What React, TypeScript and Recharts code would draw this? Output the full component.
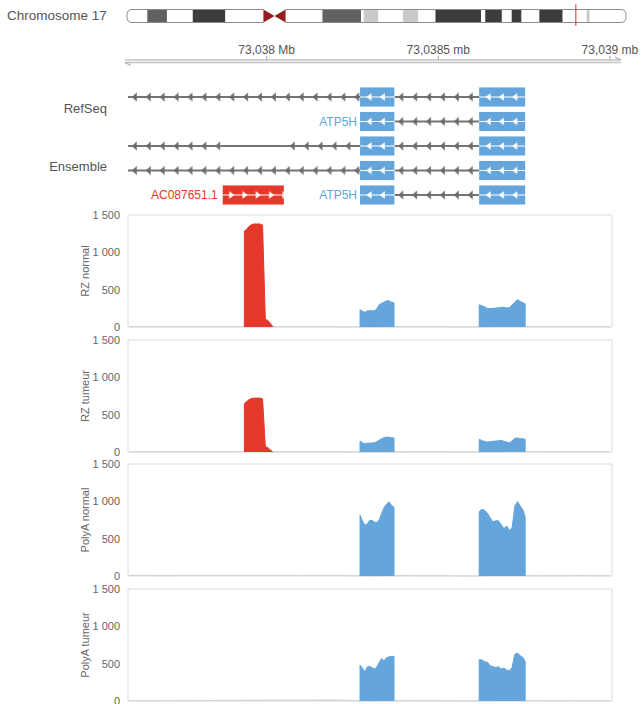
import { ComposedChart, Area, XAxis, YAxis, ReferenceArea, ReferenceLine, ReferenceDot } from 'recharts';

// genomic window shown (chr17, bp)
const VIEW_START = 73037596;
const VIEW_END = 73039006;

// chromosome 17 ideogram (hg19 cytobands, Mb)
const CHR_LENGTH = 81.2;
const BAND_START = [0, 3.3, 6.5, 10.7, 16.0, 25.8, 31.8, 38.1, 38.5, 40.9, 44.9, 47.4, 50.2, 57.6, 58.3, 61.0, 62.6, 64.2, 67.1, 70.9, 74.8, 75.3];
const BAND_END = [3.3, 6.5, 10.7, 16.0, 22.2, 31.8, 38.1, 38.5, 40.9, 44.9, 47.4, 50.2, 57.6, 58.3, 61.0, 62.6, 64.2, 67.1, 70.9, 74.8, 75.3, 81.2];
const BAND_STAIN = ['gneg', 'gpos50', 'gneg', 'gpos75', 'gneg', 'gneg', 'gpos50', 'gneg', 'gpos25', 'gneg', 'gpos25', 'gneg', 'gpos75', 'gneg', 'gpos75', 'gneg', 'gpos75', 'gneg', 'gpos75', 'gneg', 'gpos25', 'gneg'];
const CENTROMERE = [22.2, 24.0, 25.8];
const LOCUS_MB = 73.04;

// ruler
const RULER_TICKS = [73038000, 73038500, 73039000];
const RULER_LABELS = ['73,038 Mb', '73,0385 mb', '73,039 mb'];
const RULER_FROM = 73037587;
const RULER_TO = 73039032;

// gene models
const ATP5H_EXONS = [[73038272, 73038372], [73038619, 73038753]];
const ATP5H_ROWS = [1, 2, 3, 4, 5];
const ATP5H_LABEL_ROWS = [2, 5];
const AC087651_EXON = [73037872, 73038050];
const AC087651_ROW = 5;
const INTRON_ROW = [1, 1, 2, 3, 3, 3, 3, 4, 4, 5];
const INTRON_START = [VIEW_START, 73038372, 73038372, VIEW_START, 73037866, 73038056, 73038372, VIEW_START, 73038372, 73038372];
const INTRON_END = [73038272, 73038619, 73038619, 73037866, 73038056, 73038272, 73038619, 73038272, 73038619, 73038619];
const INTRON_ARROWS = [true, true, true, true, false, true, true, true, true, true];

// coverage
const PANEL_NAMES = ['RZ normal', 'RZ tumeur', 'PolyA normal', 'PolyA tumeur'];
const Y_TICKS = [0, 500, 1000, 1500];

const PEAK_POS = [73037935, 73037942, 73037948, 73037954, 73037960, 73037970, 73037980, 73037988, 73037996, 73038004, 73038010, 73038017];
const EXON1_POS = [73038272, 73038279, 73038286, 73038293, 73038300, 73038307, 73038314, 73038321, 73038328, 73038335, 73038342, 73038349, 73038356, 73038363, 73038371];
const EXON2_POS = [73038619, 73038627, 73038635, 73038643, 73038651, 73038659, 73038667, 73038675, 73038683, 73038691, 73038699, 73038707, 73038715, 73038723, 73038731, 73038739, 73038747, 73038753];
const BG_POS = [73037600, 73037700, 73037800, 73037900, 73038000, 73038100, 73038200, 73038300, 73038400, 73038500, 73038600, 73038700, 73038800, 73038900, 73039000];

const RZ_NORMAL_PEAK = [1285, 1310, 1345, 1365, 1378, 1380, 1380, 1365, 105, 85, 50, 10];
const RZ_TUMEUR_PEAK = [650, 675, 700, 712, 720, 722, 722, 712, 75, 55, 30, 5];

const RZ_NORMAL_E1 = [230, 210, 196, 218, 218, 218, 218, 245, 300, 318, 333, 350, 352, 333, 325];
const RZ_NORMAL_E2 = [298, 285, 272, 249, 247, 250, 253, 258, 263, 266, 256, 260, 295, 335, 365, 343, 322, 310];
const RZ_TUMEUR_E1 = [147, 125, 110, 118, 120, 120, 125, 140, 160, 178, 191, 200, 198, 192, 187];
const RZ_TUMEUR_E2 = [169, 155, 140, 134, 138, 143, 147, 150, 155, 145, 135, 122, 150, 185, 187, 180, 176, 173];
const POLYA_NORMAL_E1 = [815, 740, 680, 700, 745, 745, 723, 712, 754, 840, 915, 960, 995, 950, 920];
const POLYA_NORMAL_E2 = [860, 895, 880, 840, 780, 725, 740, 740, 690, 635, 670, 612, 645, 940, 995, 935, 880, 790];
const POLYA_TUMEUR_E1 = [480, 440, 390, 455, 465, 445, 430, 455, 520, 570, 535, 580, 590, 598, 598];
const POLYA_TUMEUR_E2 = [551, 551, 525, 520, 472, 459, 450, 459, 428, 441, 415, 406, 450, 626, 644, 604, 582, 525];

const RZ_NORMAL_BG = [3, 2, 2, 3, 2, 3, 2, 0, 3, 3, 0, 3, 2, 3, 2];
const RZ_TUMEUR_BG = [2, 3, 2, 3, 2, 2, 3, 0, 2, 3, 0, 2, 3, 2, 2];
const POLYA_NORMAL_BG = [10, 6, 9, 8, 10, 7, 9, 0, 6, 4, 0, 4, 3, 6, 5];
const POLYA_TUMEUR_BG = [3, 3, 5, 9, 12, 12, 14, 0, 5, 4, 0, 4, 3, 3, 3];

const BLUE = '#64a6db';
const RED = '#e5372a';
const BG_GREY = '#d2d2d2';
const TEXT = '#555';

const STAIN_COLORS: Record<string, string> = {
  gneg: '#ffffff',
  gpos25: '#cacaca',
  gpos50: '#616161',
  gpos75: '#3c3c3c',
};

const fmt = (v: number) => String(v).replace(/\B(?=(\d{3})+(?!\d))/g, ' ');

const toSeries = (pos: number[], vals: number[]) => [
  { pos: pos[0], v: 0 },
  ...pos.map((p, i) => ({ pos: p, v: vals[i] })),
  { pos: pos[pos.length - 1], v: 0 },
];

const toBg = (vals: number[]) => BG_POS.map((p, i) => ({ pos: p, v: vals[i] }));

function ArmOutline({ x, y, width, height, side }: any) {
  const r = 5;
  const d =
    side === 'p'
      ? `M${x + width},${y} H${x + r} Q${x},${y} ${x},${y + r} V${y + height - r} Q${x},${y + height} ${x + r},${y + height} H${x + width}`
      : `M${x},${y} H${x + width - r} Q${x + width},${y} ${x + width},${y + r} V${y + height - r} Q${x + width},${y + height} ${x + width - r},${y + height} H${x}`;
  return <path d={d} fill="none" stroke="#8c8c8c" strokeWidth={1} />;
}

function CentromereHalf({ x, y, width, height, dir }: any) {
  const d =
    dir === 'right'
      ? `M${x},${y} L${x + width},${y + height / 2} L${x},${y + height} Z`
      : `M${x + width},${y} L${x},${y + height / 2} L${x + width},${y + height} Z`;
  return <path d={d} fill="#941c1c" />;
}

function Ideogram() {
  return (
    <ComposedChart width={641} height={30} margin={{ top: 3, right: 15, bottom: 1, left: 127 }}>
      <XAxis type="number" dataKey="x" domain={[0, CHR_LENGTH]} hide allowDataOverflow />
      <YAxis type="number" domain={[-0.5, 1.5]} hide allowDataOverflow />
      {BAND_START.map((s, i) => (
        <ReferenceArea
          key={`band-${i}`}
          x1={s}
          x2={BAND_END[i]}
          y1={0}
          y2={1}
          fill={STAIN_COLORS[BAND_STAIN[i]]}
          fillOpacity={1}
          stroke="none"
          ifOverflow="visible"
        />
      ))}
      <ReferenceArea x1={0} x2={CENTROMERE[0]} y1={0} y2={1} ifOverflow="visible" shape={(p: any) => <ArmOutline {...p} side="p" />} />
      <ReferenceArea x1={CENTROMERE[2]} x2={CHR_LENGTH} y1={0} y2={1} ifOverflow="visible" shape={(p: any) => <ArmOutline {...p} side="q" />} />
      <ReferenceArea x1={CENTROMERE[0]} x2={CENTROMERE[1]} y1={0} y2={1} ifOverflow="visible" shape={(p: any) => <CentromereHalf {...p} dir="right" />} />
      <ReferenceArea x1={CENTROMERE[1]} x2={CENTROMERE[2]} y1={0} y2={1} ifOverflow="visible" shape={(p: any) => <CentromereHalf {...p} dir="left" />} />
      <ReferenceLine
        segment={[{ x: LOCUS_MB, y: -0.25 }, { x: LOCUS_MB, y: 1.4 }]}
        stroke="#e3262d"
        strokeWidth={1}
        ifOverflow="visible"
      />
    </ComposedChart>
  );
}

function IntronGlyph({ x, y, width, height, arrows, pid }: any) {
  const cy = y + height / 2;
  const h = height;
  return (
    <g>
      {arrows && (
        <defs>
          <pattern id={pid} patternUnits="userSpaceOnUse" x={x + 3} y={y} width={13.9} height={h}>
            <path d={`M1,${h / 2} L5.8,${h / 2 - 4.6} L5.8,${h / 2 + 4.6} Z`} fill="#6b6b6b" />
          </pattern>
        </defs>
      )}
      <line x1={x} x2={x + width} y1={cy} y2={cy} stroke="#747474" strokeWidth={2} />
      {arrows && <rect x={x} y={y} width={width} height={h} fill={`url(#${pid})`} />}
    </g>
  );
}

function ExonGlyph({ x, y, width, height, color, dir, pid }: any) {
  const cy = y + height / 2;
  const h = height;
  const tri =
    dir === 'left'
      ? `M1.5,${h / 2} L6.5,${h / 2 - 3.8} L6.5,${h / 2 + 3.8} Z`
      : `M6.5,${h / 2} L1.5,${h / 2 - 3.8} L1.5,${h / 2 + 3.8} Z`;
  return (
    <g>
      <defs>
        <pattern id={pid} patternUnits="userSpaceOnUse" x={x + 5} y={y} width={13.3} height={h}>
          <path d={tri} fill="#ffffff" />
        </pattern>
      </defs>
      <rect x={x} y={y} width={width} height={h} fill={color} />
      <line x1={x} x2={x + width} y1={cy} y2={cy} stroke="#ffffff" strokeWidth={1.2} />
      <rect x={x} y={y} width={width} height={h} fill={`url(#${pid})`} />
    </g>
  );
}

function GeneTracks() {
  return (
    <ComposedChart width={641} height={215} margin={{ top: 35.75, right: 29, bottom: 7.75, left: 128 }}>
      <XAxis type="number" dataKey="pos" domain={[VIEW_START, VIEW_END]} hide allowDataOverflow />
      <YAxis type="number" domain={[-1.5, 5.5]} reversed hide allowDataOverflow />

      {/* ruler */}
      <ReferenceLine segment={[{ x: RULER_FROM, y: -0.51 }, { x: RULER_TO, y: -0.51 }]} stroke="#c4c4c4" strokeWidth={1.4} ifOverflow="visible" />
      <ReferenceLine segment={[{ x: RULER_FROM, y: -0.41 }, { x: RULER_TO, y: -0.41 }]} stroke="#c4c4c4" strokeWidth={1.4} ifOverflow="visible" />
      <ReferenceLine segment={[{ x: RULER_TO, y: -0.51 }, { x: RULER_TO - 17, y: -0.63 }]} stroke="#b8b8b8" strokeWidth={1.4} ifOverflow="visible" />
      <ReferenceLine segment={[{ x: RULER_FROM, y: -0.41 }, { x: RULER_FROM + 17, y: -0.29 }]} stroke="#b8b8b8" strokeWidth={1.4} ifOverflow="visible" />
      {RULER_TICKS.map((t, i) => (
        <ReferenceLine
          key={`tick-${i}`}
          segment={[{ x: t, y: -0.68 }, { x: t, y: -0.51 }]}
          stroke="#a8a8a8"
          strokeWidth={1}
          ifOverflow="visible"
        />
      ))}
      {RULER_TICKS.map((t, i) => (
        <ReferenceDot
          key={`tlab-${i}`}
          x={t}
          y={-0.94}
          r={0}
          fill="none"
          stroke="none"
          ifOverflow="visible"
          label={{ value: RULER_LABELS[i], position: 'center', fill: TEXT, fontSize: 12 }}
        />
      ))}

      {/* introns */}
      {INTRON_ROW.map((row, i) => (
        <ReferenceArea
          key={`intron-${i}`}
          x1={INTRON_START[i]}
          x2={INTRON_END[i]}
          y1={row - 0.2}
          y2={row + 0.2}
          ifOverflow="visible"
          shape={(p: any) => <IntronGlyph {...p} arrows={INTRON_ARROWS[i]} pid={`intron-pat-${i}`} />}
        />
      ))}

      {/* ATP5H exons */}
      {ATP5H_ROWS.map((row) =>
        ATP5H_EXONS.map(([s, e], j) => (
          <ReferenceArea
            key={`exon-${row}-${j}`}
            x1={s}
            x2={e}
            y1={row - 0.39}
            y2={row + 0.39}
            ifOverflow="visible"
            shape={(p: any) => <ExonGlyph {...p} color={BLUE} dir="left" pid={`exon-pat-${row}-${j}`} />}
            label={
              j === 0 && ATP5H_LABEL_ROWS.includes(row)
                ? { value: 'ATP5H', position: 'left', offset: 3, fill: BLUE, fontSize: 12 }
                : undefined
            }
          />
        ))
      )}

      {/* AC087651.1 */}
      <ReferenceArea
        x1={AC087651_EXON[0]}
        x2={AC087651_EXON[1]}
        y1={AC087651_ROW - 0.39}
        y2={AC087651_ROW + 0.39}
        ifOverflow="visible"
        shape={(p: any) => <ExonGlyph {...p} color={RED} dir="right" pid="exon-pat-ac" />}
        label={{ value: 'AC087651.1', position: 'left', offset: 5, fill: RED, fontSize: 12 }}
      />
    </ComposedChart>
  );
}

function CoveragePanel({ top, name, peak, exon1, exon2, bg }: any) {
  return (
    <div style={{ position: 'absolute', left: 0, top: top - 8 }}>
      <ComposedChart width={641} height={128} margin={{ top: 8, right: 29, bottom: 8, left: 0 }}>
        <XAxis type="number" dataKey="pos" domain={[VIEW_START, VIEW_END]} hide allowDataOverflow />
        <YAxis
          type="number"
          domain={[0, 1500]}
          ticks={Y_TICKS}
          width={128}
          axisLine={false}
          tickLine={false}
          tick={{ fill: '#666', fontSize: 11 }}
          tickFormatter={fmt}
        />
        <ReferenceArea x1={VIEW_START} x2={VIEW_END} y1={0} y2={1500} fill="none" stroke="#dadada" strokeWidth={1} />
        <Area data={toBg(bg)} dataKey="v" type="linear" stroke={BG_GREY} fill={BG_GREY} fillOpacity={1} strokeWidth={1} isAnimationActive={false} />
        {peak && (
          <Area data={toSeries(PEAK_POS, peak)} dataKey="v" type="linear" stroke={RED} fill={RED} fillOpacity={1} strokeWidth={1} isAnimationActive={false} />
        )}
        <Area data={toSeries(EXON1_POS, exon1)} dataKey="v" type="linear" stroke={BLUE} fill={BLUE} fillOpacity={1} strokeWidth={1} isAnimationActive={false} />
        <Area data={toSeries(EXON2_POS, exon2)} dataKey="v" type="linear" stroke={BLUE} fill={BLUE} fillOpacity={1} strokeWidth={1} isAnimationActive={false} />
      </ComposedChart>
      <div
        style={{
          position: 'absolute',
          left: 85,
          top: 64,
          transform: 'translate(-50%, -50%) rotate(-90deg)',
          whiteSpace: 'nowrap',
          fontSize: 11,
          color: '#666',
        }}
      >
        {name}
      </div>
    </div>
  );
}

export default function App() {
  return (
    <div
      style={{
        position: 'absolute',
        left: 0,
        top: 0,
        width: 641,
        height: 704,
        overflow: 'hidden',
        background: '#fff',
        fontFamily: '"Liberation Sans", Arial, sans-serif',
      }}
    >
      <div style={{ position: 'absolute', left: 7, top: 8, fontSize: 13.5, color: TEXT }}>Chromosome 17</div>
      <div style={{ position: 'absolute', left: 0, top: 0 }}>
        <Ideogram />
      </div>
      <div style={{ position: 'absolute', left: 0, top: 0 }}>
        <GeneTracks />
      </div>
      <div style={{ position: 'absolute', left: 0, width: 107, top: 101, textAlign: 'right', fontSize: 13, color: TEXT }}>RefSeq</div>
      <div style={{ position: 'absolute', left: 0, width: 107, top: 159, textAlign: 'right', fontSize: 13, color: TEXT }}>Ensemble</div>

      <CoveragePanel top={215} name={PANEL_NAMES[0]} peak={RZ_NORMAL_PEAK} exon1={RZ_NORMAL_E1} exon2={RZ_NORMAL_E2} bg={RZ_NORMAL_BG} />
      <CoveragePanel top={339.5} name={PANEL_NAMES[1]} peak={RZ_TUMEUR_PEAK} exon1={RZ_TUMEUR_E1} exon2={RZ_TUMEUR_E2} bg={RZ_TUMEUR_BG} />
      <CoveragePanel top={464} name={PANEL_NAMES[2]} exon1={POLYA_NORMAL_E1} exon2={POLYA_NORMAL_E2} bg={POLYA_NORMAL_BG} />
      <CoveragePanel top={588.5} name={PANEL_NAMES[3]} exon1={POLYA_TUMEUR_E1} exon2={POLYA_TUMEUR_E2} bg={POLYA_TUMEUR_BG} />
    </div>
  );
}
